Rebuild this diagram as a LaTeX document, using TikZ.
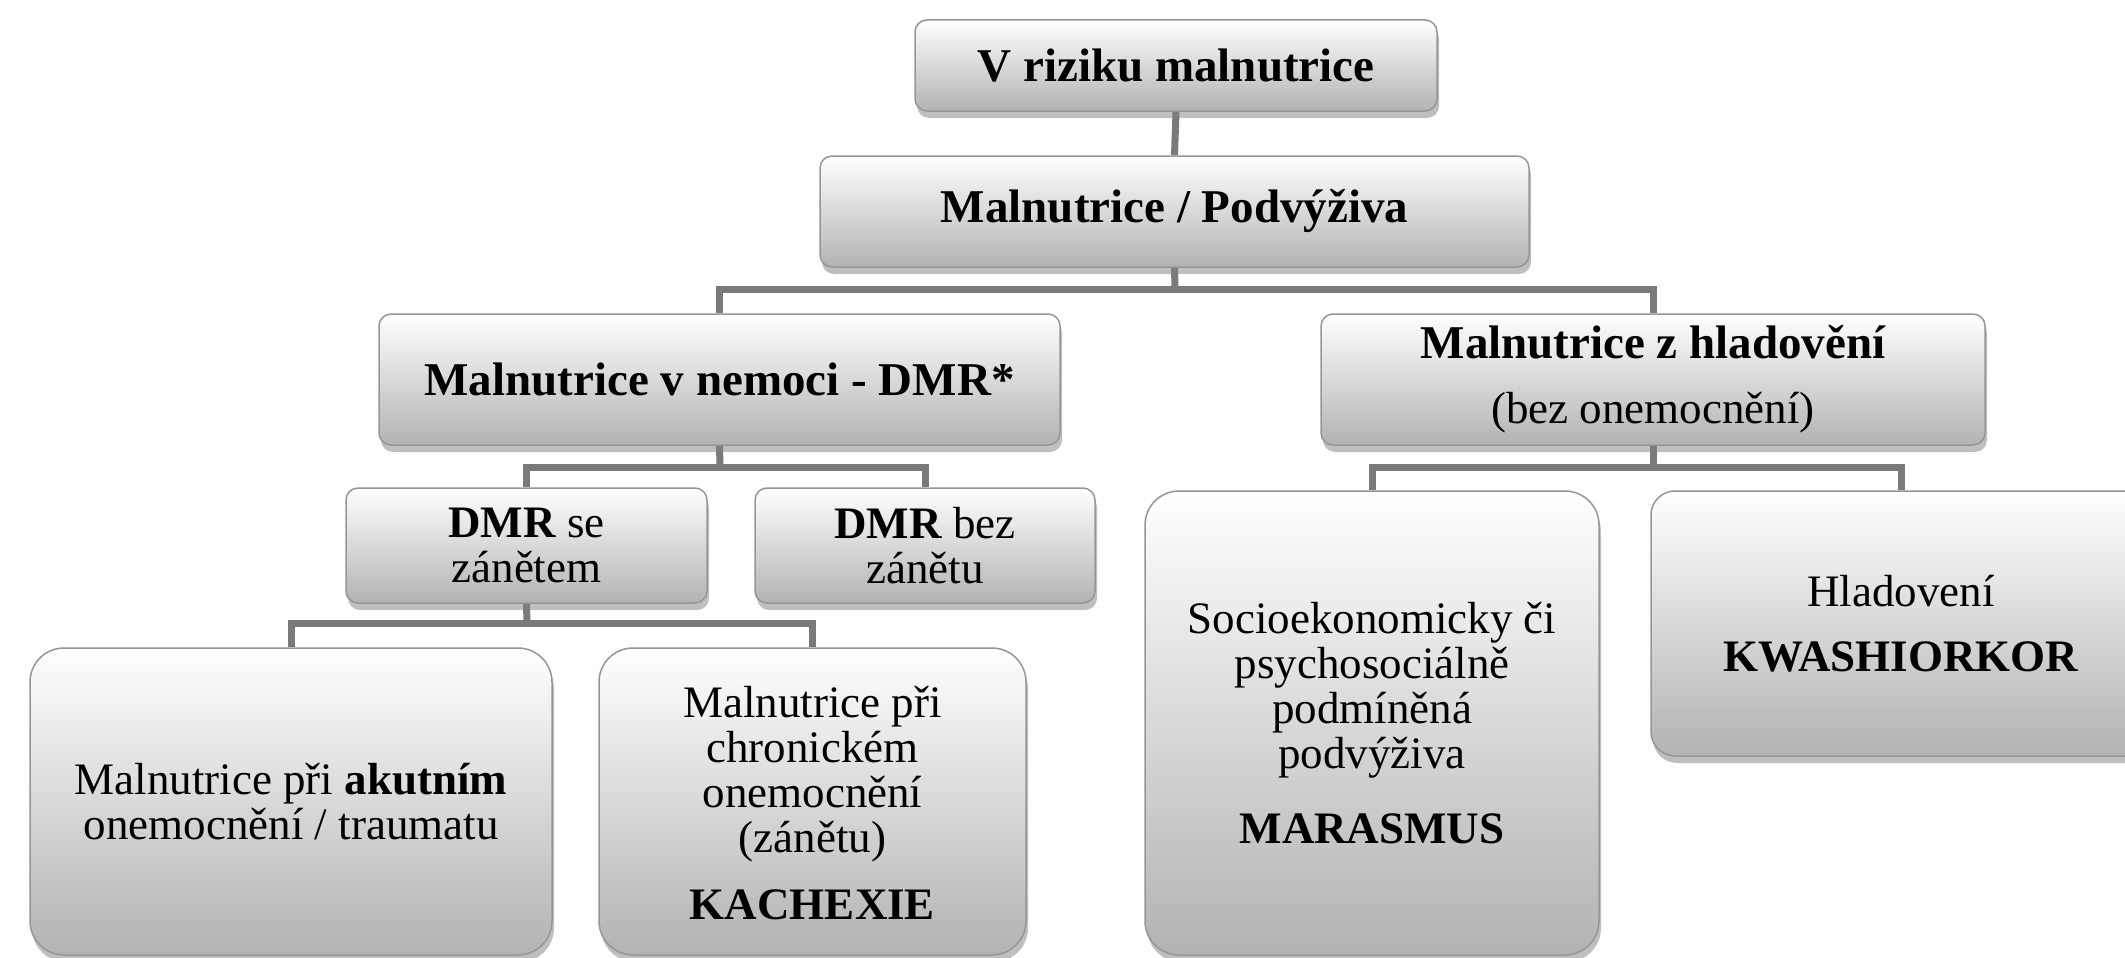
\documentclass[tikz,border=0pt]{standalone}
\usepackage{fontspec}
\setmainfont{Liberation Serif}
\usetikzlibrary{shadows,backgrounds,calc}
\definecolor{lineclr}{RGB}{122,122,122}
\definecolor{edgeclr}{RGB}{150,150,150}
\tikzset{
  box/.style={rectangle, draw=edgeclr, line width=1.5pt, rounded corners=12pt,
    top color=white, middle color=black!4, bottom color=black!30,
    drop shadow={opacity=0.5, shadow xshift=2pt, shadow yshift=-7pt},
    inner sep=0pt, align=center, font=\fontsize{45}{45}\selectfont},
  headbox/.style={box, font=\fontsize{47}{47}\selectfont\bfseries},
  tallbox/.style={box, rounded corners=34pt},
  boxtext/.style={align=center, font=\fontsize{45}{45}\selectfont, inner sep=0pt},
  conn/.style={draw=lineclr, line width=7pt}
}
\begin{document}
\begin{tikzpicture}[x=1pt,y=-1pt]
\useasboundingbox (0,0) rectangle (2125,958);
\node[headbox, minimum width=522, minimum height=91] (b1) at (1176,65.5) {V riziku malnutrice};
\node[headbox, minimum width=709, minimum height=111] (b2) at (1174.5,211.5) {Malnutrice / Podvýživa};
\node[headbox, minimum width=681, minimum height=131] (b3) at (719.5,379.5) {Malnutrice v nemoci - DMR*};
\node[box, minimum width=664, minimum height=131] (b4) at (1653,379.5) {{\fontsize{47}{47}\selectfont\bfseries Malnutrice z hladovění}\\[20pt](bez onemocnění)};
\node[box, minimum width=361, minimum height=115] (b5) at (526.5,545.5) {\textbf{DMR} se\\zánětem};
\node[box, minimum width=340, minimum height=115] (b6) at (925,545.5) {\textbf{DMR} bez\\zánětu};
\node[tallbox, minimum width=522, minimum height=307] (b7) at (291,801.5) {Malnutrice při \textbf{akutním}\\onemocnění / traumatu};
\node[tallbox, minimum width=427, minimum height=307,
  label={[boxtext, yshift=-2pt]center:Malnutrice při\\chronickém\\onemocnění\\(zánětu)\\[22pt]\textbf{KACHEXIE}}] (b8) at (812.5,801.5) {};
\node[tallbox, minimum width=454, minimum height=464] (b9) at (1372,723) {Socioekonomicky či\\psychosociálně\\podmíněná\\podvýživa\\[30pt]\textbf{MARASMUS}};
\node[tallbox, rounded corners=24pt, minimum width=500, minimum height=265] (b10) at (1901,623.5) {Hladovení\\[20pt]\textbf{KWASHIORKOR}};
\coordinate (j1) at (1175,289);
\coordinate (j2) at (720,467);
\coordinate (j3) at (1653,467);
\coordinate (j4) at (527,623);
\begin{pgfonlayer}{background}
\fill[white] (0,0) rectangle (2125,958);
\draw[conn] (b1.south) -- (b2.north);
\draw[conn] (b2.south) -- (j1);
\draw[conn] (b3.north) |- (j1) -| (b4.north);
\draw[conn] (b3.south) -- (j2);
\draw[conn] (b5.north) |- (j2) -| (b6.north);
\draw[conn] (b4.south) -- (j3);
\draw[conn] (b9.north) |- (j3) -| (b10.north);
\draw[conn] (b5.south) -- (j4);
\draw[conn] (b7.north) |- (j4) -| (b8.north);
\end{pgfonlayer}
\end{tikzpicture}
\end{document}
